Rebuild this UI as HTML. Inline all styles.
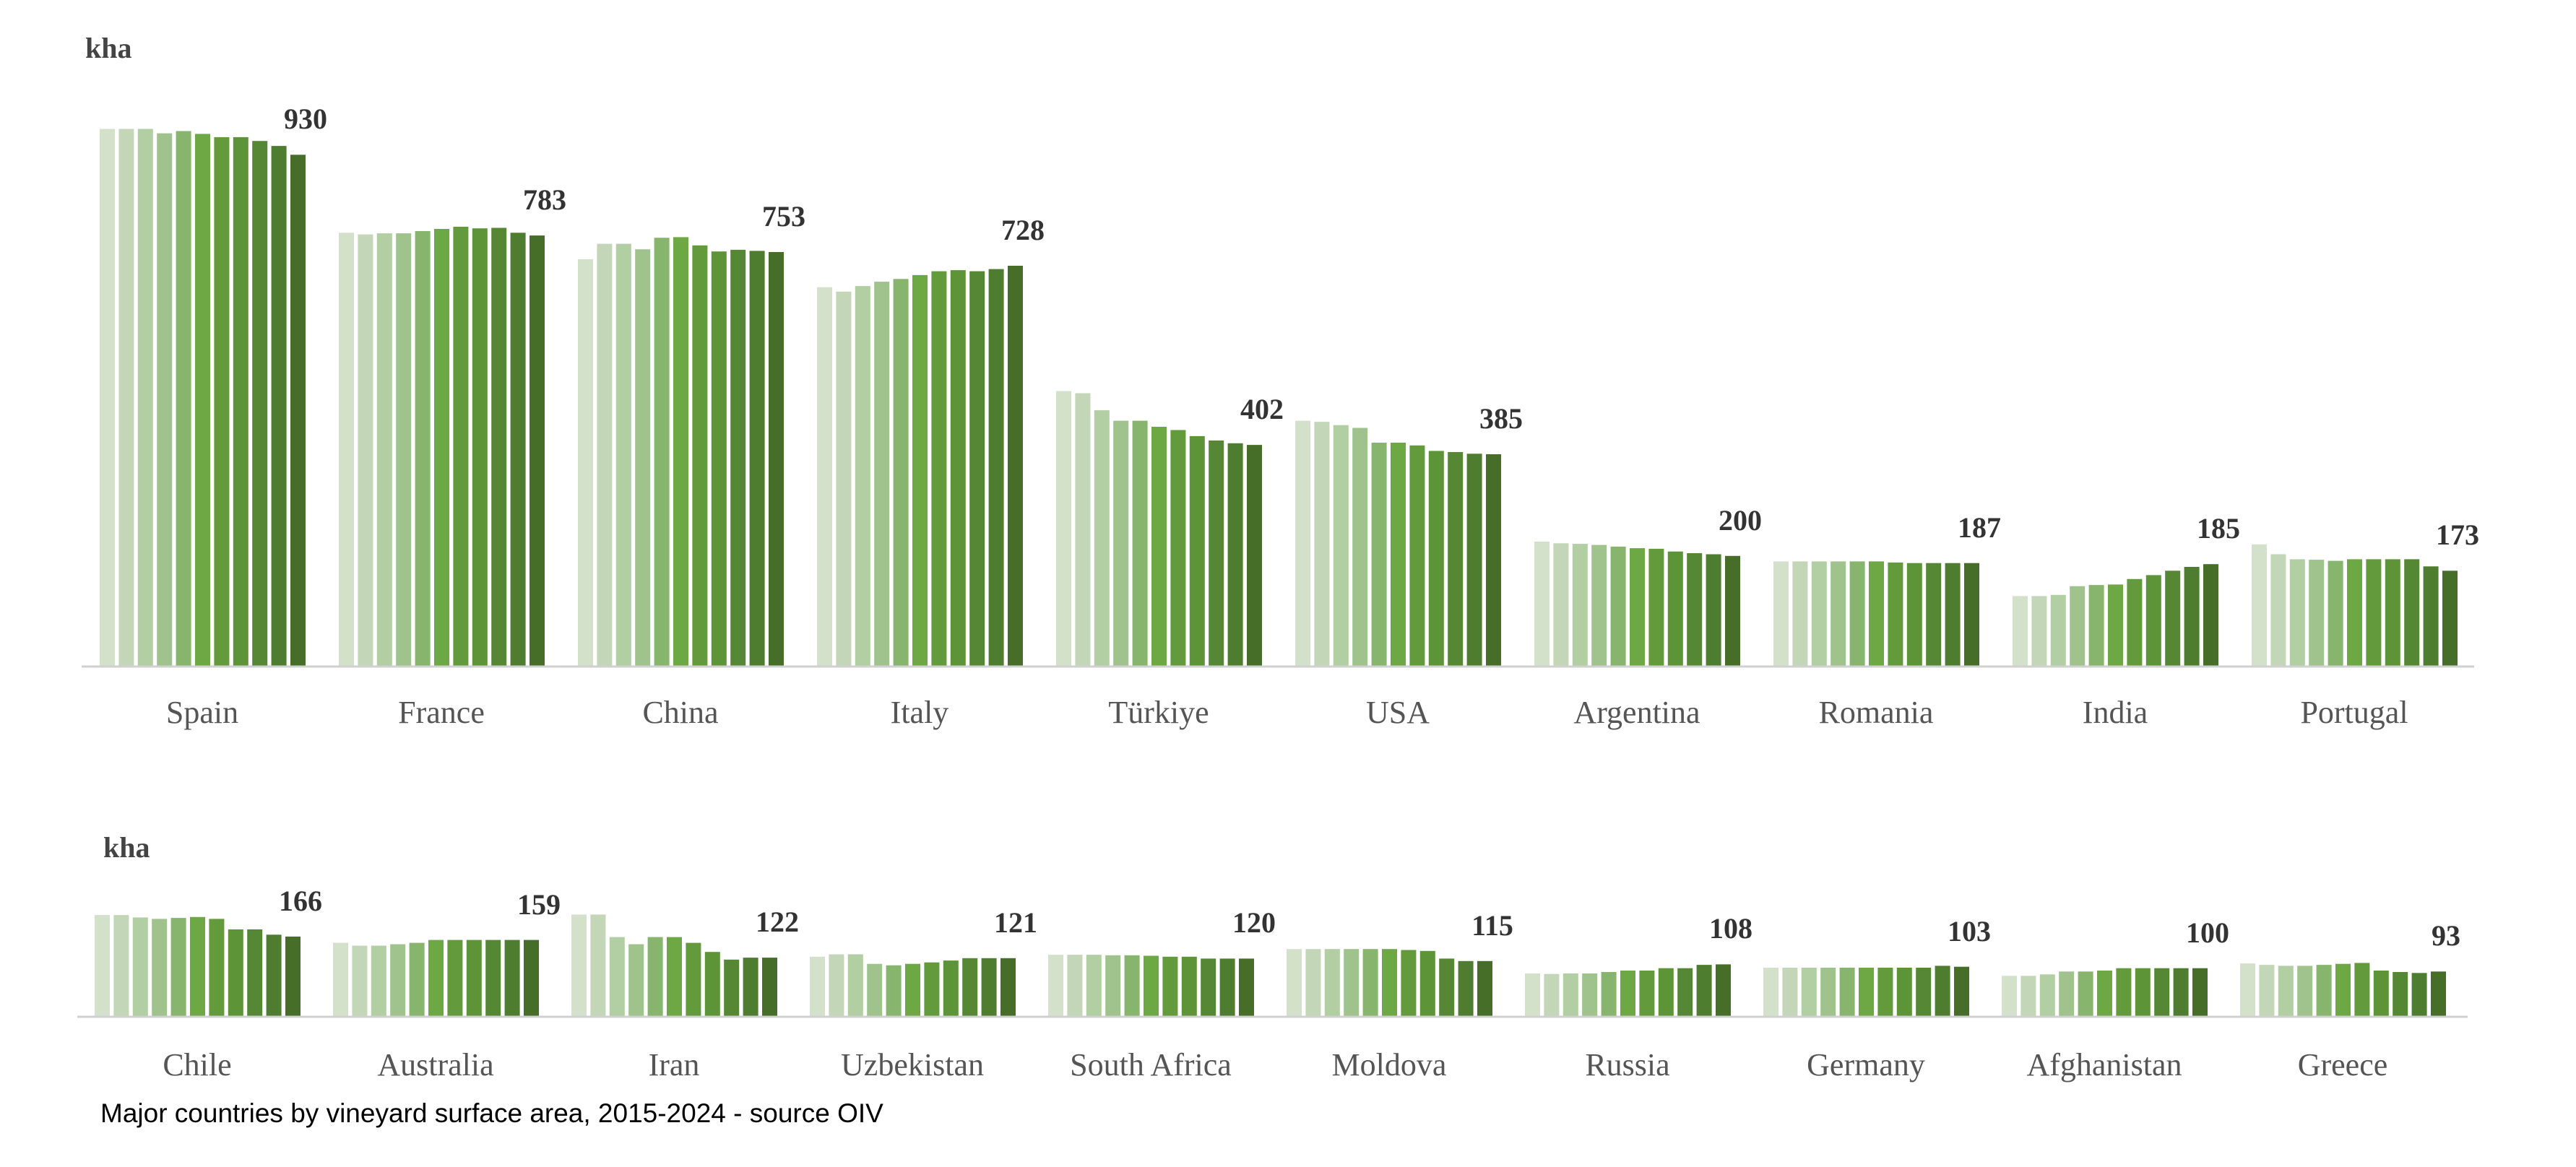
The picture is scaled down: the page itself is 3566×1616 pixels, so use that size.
<!DOCTYPE html>
<html><head><meta charset="utf-8"><style>
html,body{margin:0;padding:0;background:#fff;}
svg{display:block;}
.v{font-family:"Liberation Serif",serif;font-weight:bold;font-size:40px;fill:#333;text-anchor:middle;}
.c{font-family:"Liberation Serif",serif;font-size:44px;fill:#555;text-anchor:middle;}
.k{font-family:"Liberation Serif",serif;font-weight:bold;font-size:40px;fill:#444;}
</style></head><body>
<svg id="s" width="3566" height="1616" xmlns="http://www.w3.org/2000/svg">
<rect width="3566" height="1616" fill="#fff"/>
<g id="bars"></g>
<line x1="113" y1="923" x2="3425" y2="923" stroke="#d0d0d0" stroke-width="3"/>
<line x1="107" y1="1408" x2="3416" y2="1408" stroke="#d0d0d0" stroke-width="3"/>
<text class="k" x="118" y="80">kha</text>
<text class="k" x="143" y="1187">kha</text>
<text class="v" x="423" y="178">930</text>
<text class="v" x="754" y="290">783</text>
<text class="v" x="1085" y="313">753</text>
<text class="v" x="1416" y="332">728</text>
<text class="v" x="1747" y="580">402</text>
<text class="v" x="2078" y="593">385</text>
<text class="v" x="2409" y="734">200</text>
<text class="v" x="2740" y="744">187</text>
<text class="v" x="3071" y="745">185</text>
<text class="v" x="3402" y="754">173</text>
<text class="c" x="280" y="1001">Spain</text>
<text class="c" x="611" y="1001">France</text>
<text class="c" x="942" y="1001">China</text>
<text class="c" x="1273" y="1001">Italy</text>
<text class="c" x="1604" y="1001">Türkiye</text>
<text class="c" x="1935" y="1001">USA</text>
<text class="c" x="2266" y="1001">Argentina</text>
<text class="c" x="2597" y="1001">Romania</text>
<text class="c" x="2928" y="1001">India</text>
<text class="c" x="3259" y="1001">Portugal</text>
<text class="v" x="416" y="1261">166</text>
<text class="v" x="746" y="1266">159</text>
<text class="v" x="1076" y="1290">122</text>
<text class="v" x="1406" y="1291">121</text>
<text class="v" x="1736" y="1291">120</text>
<text class="v" x="2066" y="1295">115</text>
<text class="v" x="2396" y="1299">108</text>
<text class="v" x="2726" y="1303">103</text>
<text class="v" x="3056" y="1305">100</text>
<text class="v" x="3386" y="1309">93</text>
<text class="c" x="273" y="1489">Chile</text>
<text class="c" x="603" y="1489">Australia</text>
<text class="c" x="933" y="1489">Iran</text>
<text class="c" x="1263" y="1489">Uzbekistan</text>
<text class="c" x="1593" y="1489">South Africa</text>
<text class="c" x="1923" y="1489">Moldova</text>
<text class="c" x="2253" y="1489">Russia</text>
<text class="c" x="2583" y="1489">Germany</text>
<text class="c" x="2913" y="1489">Afghanistan</text>
<text class="c" x="3243" y="1489">Greece</text>
<text x="139" y="1554" style="font-family:'Liberation Sans',Arial,sans-serif;font-size:37px;fill:#000;">Major countries by vineyard surface area, 2015-2024 - source OIV</text>
</svg>
<script>
var cols=["#d3e1cb","#c3d7b8","#b2cea3","#a0c38d","#88b56e","#6ea844","#639a3c","#5e9438","#558734","#4f7d30","#466e29"];
var top10=[
[977,977,977,969,973,968,962,962,955,946,930],
[788,785,787,787,791,795,799,796,797,788,783],
[740,768,768,758,779,780,765,754,757,755,753],
[689,681,691,699,704,711,718,720,718,722,728],
[500,496,465,446,446,435,429,418,410,405,402],
[446,444,438,433,406,406,401,391,389,386,385],
[226,223,222,220,217,214,213,208,205,203,200],
[190,190,190,190,190,190,188,187,187,187,187],
[127,127,129,145,147,148,158,165,173,180,185],
[221,203,194,193,191,194,194,194,194,181,173]];
var bot10=[
[211,211,206,203,205,207,203,181,181,170,166],
[153,147,147,150,153,159,159,159,159,159,159],
[212,212,165,150,165,165,153,134,118,122,122],
[124,129,129,109,106,109,112,116,121,121,121],
[128,128,128,127,127,126,124,124,120,120,120],
[140,140,140,140,140,140,138,136,120,115,115],
[89,88,89,89,92,95,95,100,100,107,108],
[101,101,101,101,101,101,101,101,101,105,103],
[84,84,87,93,93,95,100,100,100,100,100],
[110,107,105,105,107,109,111,95,92,90,93]];
var g=document.getElementById("bars"),h="";
function draw(data,x0,pitch,base,sc){
 for(var i=0;i<10;i++){for(var j=0;j<11;j++){
  var x=x0+i*pitch+j*26.4,hh=data[i][j]*sc;
  h+='<rect x="'+x.toFixed(1)+'" y="'+(base-hh).toFixed(1)+'" width="21" height="'+hh.toFixed(1)+'" fill="'+cols[j]+'"/>';
 }}
}
draw(top10,138,331,922,0.761);
draw(bot10,131,330,1407,0.663);
g.innerHTML=h;
</script>
</body></html>
